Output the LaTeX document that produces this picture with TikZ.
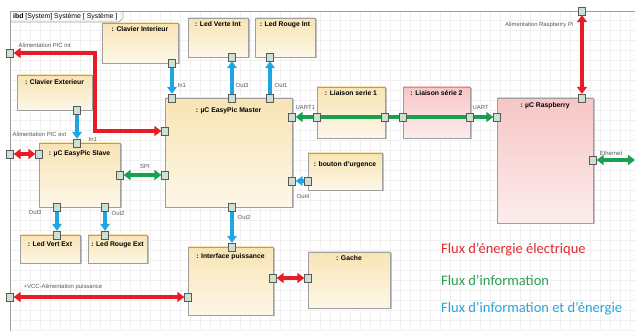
\documentclass[tikz,border=0pt]{standalone}
\usepackage{fontspec}
\setmainfont{Liberation Sans}
\newfontfamily\legendfont{Carlito}
\usetikzlibrary{arrows.meta,shadows,fit,calc}
\pgfdeclarelayer{gridlayer}
\pgfdeclarelayer{blocklayer}
\pgfdeclarelayer{arrowlayer}
\pgfsetlayers{gridlayer,blocklayer,arrowlayer,main}
\definecolor{ered}{RGB}{232,28,36}
\definecolor{egreen}{RGB}{24,160,78}
\definecolor{eblue}{RGB}{30,165,228}
\definecolor{cream1}{RGB}{248,228,180}
\definecolor{cream2}{RGB}{253,247,232}
\definecolor{pink1}{RGB}{247,198,198}
\definecolor{pink2}{RGB}{252,236,236}
\definecolor{portfill}{RGB}{205,225,210}
\definecolor{lgred}{RGB}{226,40,48}
\definecolor{lggreen}{RGB}{40,160,80}
\definecolor{lgblue}{RGB}{40,165,220}
\begin{document}
\begin{tikzpicture}[x=1pt,y=-1pt,
  block/.style={draw=gray!75, line width=0.6pt, top color=cream1, bottom color=cream2, inner sep=0pt,
     drop shadow={shadow xshift=1.5pt,shadow yshift=-1.5pt,fill=black!40,opacity=.6}},
  pinkblock/.style={block, top color=pink1, bottom color=pink2},
  port/.style={draw=gray!70!black, line width=0.4pt, fill=portfill, minimum width=7pt, minimum height=8pt, inner sep=0pt},
  title/.style={font=\bfseries\fontsize{6.8}{8}\selectfont, anchor=north, inner sep=0pt},
  lbl/.style={font=\fontsize{5.9}{7}\selectfont, text=black!65, inner sep=0.5pt},
  rdbl/.style={draw=ered, line width=3.6pt, arrows={Triangle[length=7pt,width=10pt]-Triangle[length=7pt,width=10pt]}},
  gdbl/.style={draw=egreen, line width=3.6pt, arrows={Triangle[length=7pt,width=10pt]-Triangle[length=7pt,width=10pt]}},
  bsgl/.style={draw=eblue, line width=3.4pt, arrows={-Triangle[length=7pt,width=9.5pt]}},
  legend/.style={anchor=west, font=\legendfont\fontsize{14.5}{16}\selectfont, inner sep=0pt}
]
\useasboundingbox (0,0) rectangle (635,331);
% grid and frame
\begin{pgfonlayer}{gridlayer}
\fill[white] (0,0) rectangle (635,331);
\draw[black!6, line width=0.3pt, step=10pt] (10,11) grid (635,331);
\end{pgfonlayer}
\draw[gray!75, line width=0.6pt] (10,331) -- (10,11) -- (635,11);
\draw[gray!75, line width=0.6pt] (10,22) -- (119,22) -- (123,18) -- (123,11);
\node[anchor=west, font=\fontsize{6.9}{8}\selectfont, inner sep=0pt] (ftab) at (13,16.5) {\textbf{ibd} [System] Système [ Système ]};

% blocks
\begin{pgfonlayer}{blocklayer}
\node[block, fit={(102,23)(178,63)}] (cint) {};
\node[block, fit={(188,18)(248,57)}] (lvi) {};
\node[block, fit={(255,18)(315,57)}] (lri) {};
\node[block, fit={(17,75)(92,110)}] (cext) {};
\node[block, fit={(165,98)(292,207)}] (master) {};
\node[block, fit={(39,143)(120,207)}] (slave) {};
\node[block, fit={(20,235)(80,263)}] (lve) {};
\node[block, fit={(88,235)(147,263)}] (lre) {};
\node[block, fit={(188,247)(273,315)}] (inter) {};
\node[block, fit={(308,252)(390,308)}] (gache) {};
\node[block, fit={(317,87)(385,138)}] (ls1) {};
\node[pinkblock, fit={(403,87)(470,138)}] (ls2) {};
\node[block, fit={(308,153)(382,190)}] (bout) {};
\node[pinkblock, fit={(497,98)(593,223)}] (rasp) {};
\end{pgfonlayer}

% titles
\node[title] (tcint) at ([yshift=-4pt]cint.north) {: Clavier Interieur};
\node[title] (tlvi) at ([yshift=-4pt]lvi.north) {: Led Verte Int};
\node[title] (tlri) at ([yshift=-4pt]lri.north) {: Led Rouge Int};
\node[title] (tcext) at ([yshift=-5pt]cext.north) {: Clavier Exterieur};
\node[title] (tmaster) at ([yshift=-10pt]master.north) {: µC EasyPic Master};
\node[title] (tslave) at ([yshift=-8pt]slave.north) {: µC EasyPic Slave};
\node[title] (tlve) at ([yshift=-7pt]lve.north) {: Led Vert Ext};
\node[title] (tlre) at ([yshift=-7pt]lre.north) {: Led Rouge Ext};
\node[title] (tinter) at ([yshift=-7pt]inter.north) {: Interface puissance};
\node[title] (tgache) at ([yshift=-4pt]gache.north) {: Gache};
\node[title] (tls1) at ([yshift=-4pt]ls1.north) {: Liaison serie 1};
\node[title] (tls2) at ([yshift=-4pt]ls2.north) {: Liaison série 2};
\node[title] (tbout) at ([yshift=-9pt]bout.north) {: bouton d'urgence};
\node[title] (trasp) at ([yshift=-5pt]rasp.north) {: µC Raspberry};

% ports
\node[port] (pAint) at (10,53) {};
\node[port] (pMa) at (165,131) {};
\node[port] (pAext) at (10,154) {};
\node[port] (pSa) at (39,154) {};
\node[port] (pCe) at (77,110) {};
\node[port] (pSin) at (77,143) {};
\node[port] (pCi) at (172,63) {};
\node[port] (pMin) at (172,98) {};
\node[port] (pLvi) at (232,57) {};
\node[port] (pMo3) at (232,98) {};
\node[port] (pLri) at (270,57) {};
\node[port] (pMo1) at (270,98) {};
\node[port] (pMu) at (292,117) {};
\node[port] (pL1a) at (317,117) {};
\node[port] (pL1b) at (385,117) {};
\node[port] (pL2a) at (403,117) {};
\node[port] (pL2b) at (470,117) {};
\node[port] (pRu) at (497,117) {};
\node[port] (pMo4) at (292,181) {};
\node[port] (pBo) at (308,181) {};
\node[port] (pMo2) at (232,207) {};
\node[port] (pIt) at (232,247) {};
\node[port] (pSspi) at (120,175) {};
\node[port] (pMspi) at (165,175) {};
\node[port] (pSo3) at (57,207) {};
\node[port] (pLve) at (57,235) {};
\node[port] (pSo2) at (105,207) {};
\node[port] (pLre) at (105,235) {};
\node[port] (pIr) at (273,278) {};
\node[port] (pGl) at (308,278) {};
\node[port] (pVcc) at (10,297) {};
\node[port] (pIl) at (188,297) {};
\node[port] (pRtop) at (582,11) {};
\node[port] (pRt) at (582,98) {};
\node[port] (pRe) at (593,160) {};
\coordinate (turnA) at (95,53);
\coordinate (turnB) at (95,131);
\coordinate (ethend) at (635,160);

% connectors
\begin{pgfonlayer}{arrowlayer}
\draw[rdbl] (pAint) -- (turnA) -- (turnB) -- (pMa);
\draw[rdbl] (pAext) -- (pSa);
\draw[rdbl] (pIr) -- (pGl);
\draw[rdbl] (pVcc) -- (pIl);
\draw[rdbl] (pRtop) -- (pRt);
\draw[gdbl] (pMu) -- (pRu);
\draw[gdbl] (pSspi) -- (pMspi);
\draw[gdbl] (pRe) -- (ethend);
\draw[bsgl] (pCe) -- (pSin);
\draw[bsgl] (pCi) -- (pMin);
\draw[bsgl] (pMo3) -- (pLvi);
\draw[bsgl] (pMo1) -- (pLri);
\draw[bsgl] (pBo) -- (pMo4);
\draw[bsgl] (pMo2) -- (pIt);
\draw[bsgl] (pSo3) -- (pLve);
\draw[bsgl] (pSo2) -- (pLre);
\end{pgfonlayer}

% labels
\node[lbl, anchor=west] (laint) at (18,45) {Alimentation PIC int};
\node[lbl, anchor=west] (laext) at (12,134) {Alimentation PIC ext};
\node[lbl, anchor=west] (lin1s) at (88,139) {In1};
\node[lbl, anchor=west] (lin1m) at (177,85) {In1};
\node[lbl, anchor=west] (lout3m) at (235,85) {Out3};
\node[lbl, anchor=west] (lout1m) at (274,85) {Out1};
\node[lbl, anchor=west] (luart1) at (295,108) {UART1};
\node[lbl, anchor=west] (luart) at (472,108) {UART};
\node[lbl, anchor=west] (lout4) at (296,196) {Out4};
\node[lbl, anchor=west] (lout2m) at (237,217) {Out2};
\node[lbl] (lspi) at (145,166) {SPI};
\node[lbl, anchor=west] (lout3s) at (28,212) {Out3};
\node[lbl, anchor=west] (lout2s) at (111,213) {Out2};
\node[lbl, anchor=west] (lvcc) at (23,287) {+VCC-Alimentation puissance};
\node[lbl, anchor=east] (lrpi) at (574,25) {Alimentation Raspberry Pi};
\node[lbl] (leth) at (611,153) {Ethernet};

% legend
\node[legend, text=lgred] (lg1) at (441,250) {Flux d’énergie électrique};
\node[legend, text=lggreen] (lg2) at (441,280) {Flux d’information};
\node[legend, text=lgblue] (lg3) at (441,309) {Flux d’information et d’énergie};
\end{tikzpicture}
\end{document}
